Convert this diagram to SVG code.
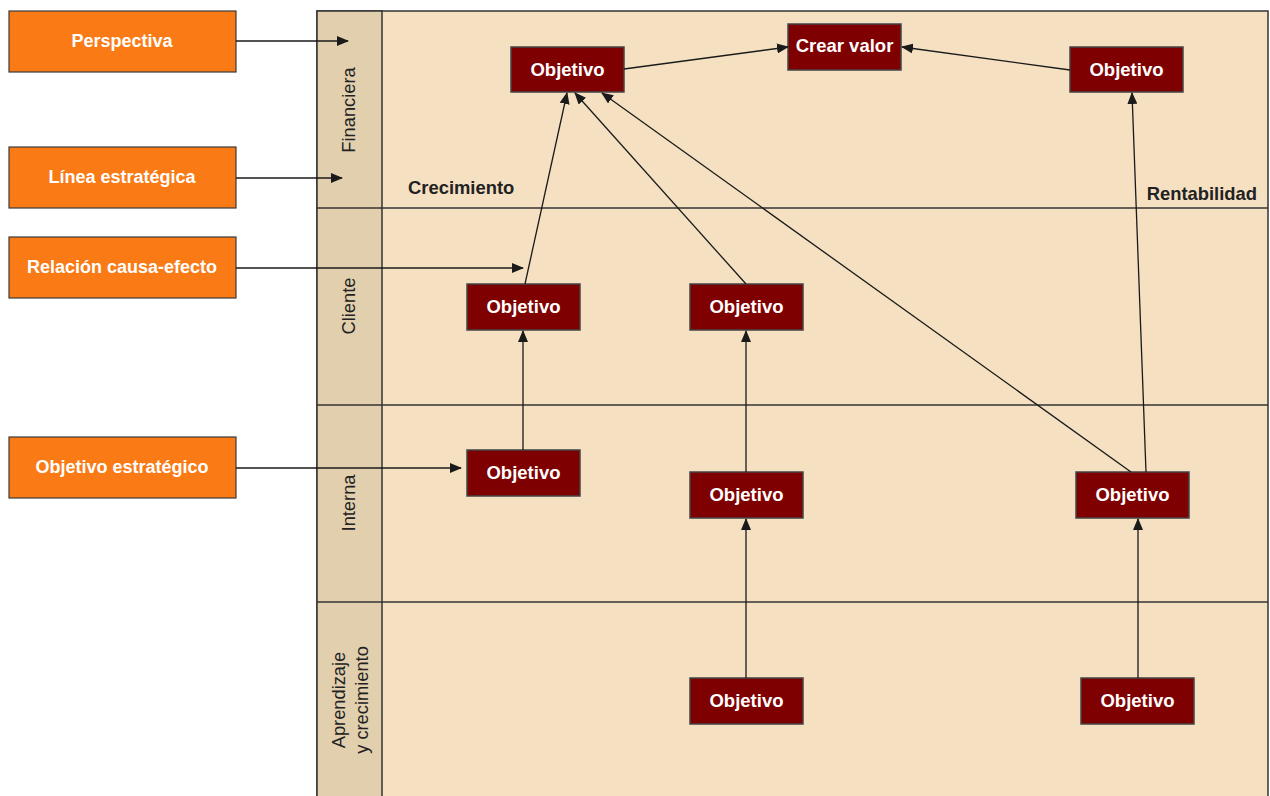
<svg xmlns="http://www.w3.org/2000/svg" width="1270" height="796" viewBox="0 0 1270 796">
<style>
.lbl{fill:#fa7a16;stroke:#3a3a3a;stroke-width:1.2}
.lt{font-family:"Liberation Sans",Arial,sans-serif;font-weight:bold;font-size:18px;fill:#fff;text-anchor:middle}
.obj{fill:#7f0000;stroke:#444;stroke-width:1.5}
.ot{font-family:"Liberation Sans",Arial,sans-serif;font-weight:bold;font-size:18.5px;fill:#fff;text-anchor:middle}
.rl{font-family:"Liberation Sans",Arial,sans-serif;font-size:18.3px;fill:#222;text-anchor:middle}
.sl{font-family:"Liberation Sans",Arial,sans-serif;font-weight:bold;font-size:18.4px;fill:#222}
.c{stroke:#1a1a1a;stroke-width:1.3;fill:none;marker-end:url(#ah)}
</style>
<defs>
<marker id="ah" markerWidth="12" markerHeight="10" refX="11" refY="5" orient="auto" markerUnits="userSpaceOnUse">
<path d="M0,0 L12,5 L0,10 Z" fill="#1a1a1a"/>
</marker>
</defs>
<rect width="1270" height="796" fill="#fff"/>
<g id="frame">
<rect x="317" y="11" width="951" height="790" fill="#f5e1c2" stroke="#333" stroke-width="1.5"/>
<rect x="317" y="11" width="65" height="790" fill="#e1cfae" stroke="#333" stroke-width="1.5"/>
<line x1="317" y1="208" x2="1268" y2="208" stroke="#333" stroke-width="1.5"/>
<line x1="317" y1="405" x2="1268" y2="405" stroke="#333" stroke-width="1.5"/>
<line x1="317" y1="602" x2="1268" y2="602" stroke="#333" stroke-width="1.5"/>
<text class="rl" transform="translate(355,110) rotate(-90)">Financiera</text>
<text class="rl" transform="translate(355,306) rotate(-90)">Cliente</text>
<text class="rl" transform="translate(355,503) rotate(-90)">Interna</text>
<text class="rl" transform="translate(345,700) rotate(-90)">Aprendizaje</text>
<text class="rl" transform="translate(368,700) rotate(-90)">y crecimiento</text>
<text class="sl" x="408" y="194">Crecimiento</text>
<text class="sl" x="1257" y="200" text-anchor="end">Rentabilidad</text>
</g>
<g id="legend-perspectiva"><rect class="lbl" x="9" y="11" width="227" height="61"/><text class="lt" x="122" y="47">Perspectiva</text></g>
<g id="legend-linea"><rect class="lbl" x="9" y="147" width="227" height="61"/><text class="lt" x="122" y="183">Línea estratégica</text></g>
<g id="legend-relacion"><rect class="lbl" x="9" y="237" width="227" height="61"/><text class="lt" x="122" y="273">Relación causa-efecto</text></g>
<g id="legend-objetivo"><rect class="lbl" x="9" y="437" width="227" height="61"/><text class="lt" x="122" y="473">Objetivo estratégico</text></g>
<g id="fin-obj1"><rect class="obj" x="511" y="47" width="113" height="45"/><text class="ot" x="567.5" y="76">Objetivo</text></g>
<g id="crear-valor"><rect class="obj" x="788" y="24" width="113" height="46"/><text class="ot" x="844.5" y="52">Crear valor</text></g>
<g id="fin-obj2"><rect class="obj" x="1070" y="47" width="113" height="45"/><text class="ot" x="1126.5" y="76">Objetivo</text></g>
<g id="cli-obj1"><rect class="obj" x="467" y="284" width="113" height="46"/><text class="ot" x="523.5" y="313">Objetivo</text></g>
<g id="cli-obj2"><rect class="obj" x="690" y="284" width="113" height="46"/><text class="ot" x="746.5" y="313">Objetivo</text></g>
<g id="int-obj1"><rect class="obj" x="467" y="450" width="113" height="46"/><text class="ot" x="523.5" y="479">Objetivo</text></g>
<g id="int-obj2"><rect class="obj" x="690" y="472" width="113" height="46"/><text class="ot" x="746.5" y="501">Objetivo</text></g>
<g id="int-obj3"><rect class="obj" x="1076" y="472" width="113" height="46"/><text class="ot" x="1132.5" y="501">Objetivo</text></g>
<g id="apr-obj1"><rect class="obj" x="690" y="678" width="113" height="46"/><text class="ot" x="746.5" y="707">Objetivo</text></g>
<g id="apr-obj2"><rect class="obj" x="1081" y="678" width="113" height="46"/><text class="ot" x="1137.5" y="707">Objetivo</text></g>
<g id="connectors">
<line class="c" x1="236" y1="41" x2="348" y2="41"/>
<line class="c" x1="236" y1="178" x2="342" y2="178"/>
<line class="c" x1="236" y1="268" x2="523" y2="268"/>
<line class="c" x1="236" y1="468" x2="461" y2="468"/>
<line class="c" x1="624" y1="69" x2="788" y2="47"/>
<line class="c" x1="1070" y1="70" x2="902" y2="47"/>
<line class="c" x1="525" y1="284" x2="567" y2="93"/>
<line class="c" x1="746" y1="284" x2="575" y2="93"/>
<line class="c" x1="1131" y1="472" x2="602" y2="93"/>
<line class="c" x1="1146" y1="472" x2="1132" y2="93"/>
<line class="c" x1="523" y1="450" x2="523" y2="331"/>
<line class="c" x1="746" y1="472" x2="746" y2="331"/>
<line class="c" x1="746" y1="678" x2="746" y2="519"/>
<line class="c" x1="1138" y1="678" x2="1138" y2="519"/>
</g>
</svg>
